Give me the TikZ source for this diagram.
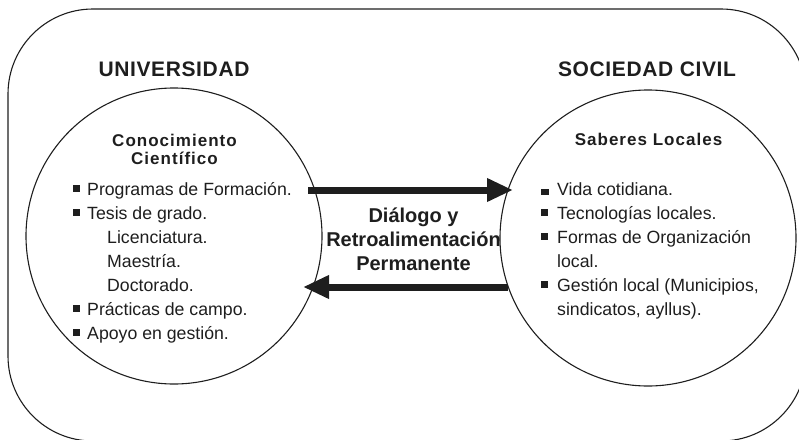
\documentclass[tikz,border=0pt]{standalone}
\usepackage{fontspec}
\setmainfont{Liberation Sans}
\newfontfamily\headfont[LetterSpace=6]{Liberation Sans}
\newfontfamily\titlefont[LetterSpace=3]{Liberation Sans}
\usetikzlibrary{arrows.meta}
\definecolor{ink}{HTML}{1E1E1E}
\begin{document}
\begin{tikzpicture}[x=1pt,y=-1pt,
  frame/.style={draw=ink,line width=1.1pt},
  circ/.style={circle,draw=ink,line width=1.1pt,minimum size=296pt,inner sep=0pt},
  title/.style={text=ink,font=\titlefont\bfseries\fontsize{21}{25}\selectfont,inner sep=0pt},
  head/.style={text=ink,font=\headfont\bfseries\fontsize{17}{20}\selectfont,inner sep=0pt,anchor=base},
  item/.style={text=ink,font=\fontsize{17.7}{21}\selectfont,inner sep=0pt,anchor=base west},
  mid/.style={text=ink,font=\bfseries\fontsize{20}{24}\selectfont,inner sep=0pt,anchor=base},
  bul/.style={fill=ink,inner sep=0pt,minimum width=7pt,minimum height=7pt},
  bigarrow/.style={draw=ink,line width=7pt,-{Triangle[length=26pt,width=22pt]}}
]
\useasboundingbox (0,0) rectangle (799,439);
\clip (0,0) rectangle (799,439);
% outer frame
\draw[frame,rounded corners=85pt] (8,9) rectangle (806,441);
% titles
\node[title] (uni) at (174,69) {UNIVERSIDAD};
\node[title] (soc) at (647,69) {SOCIEDAD CIVIL};
% circles
\node[circ] (ucirc) at (174,236) {};
\node[circ] (scirc) at (648,238) {};
% left circle contents
\node[head] (ck1) at (174.5,146) {Conocimiento};
\node[head] (ck2) at (174.5,164) {Científico};
\node[item] (l1) at (87,195) {Programas de Formación.};
\node[item] (l2) at (87,219) {Tesis de grado.};
\node[item] (l3) at (107,243) {Licenciatura.};
\node[item] (l4) at (107,267) {Maestría.};
\node[item] (l5) at (107,291) {Doctorado.};
\node[item] (l6) at (87,315) {Prácticas de campo.};
\node[item] (l7) at (87,339) {Apoyo en gestión.};
\node[bul] (b1) at (76.5,188) {};
\node[bul] (b2) at (76.5,212) {};
\node[bul] (b6) at (76.5,308) {};
\node[bul] (b7) at (76.5,332) {};
% right circle contents
\node[head] (sl) at (648.5,145) {Saberes Locales};
\node[item] (r1) at (557,195) {Vida cotidiana.};
\node[item] (r2) at (557,219) {Tecnologías locales.};
\node[item] (r3) at (557,243) {Formas de Organización};
\node[item] (r4) at (557,267) {local.};
\node[item] (r5) at (557,291) {Gestión local (Municipios,};
\node[item] (r6) at (557,315) {sindicatos, ayllus).};
\node[bul,minimum width=8pt,minimum height=6pt] (c1) at (544.5,191.5) {};
\node[bul] (c2) at (544,212) {};
\node[bul] (c3) at (544,236) {};
\node[bul] (c5) at (544,284) {};
% middle text
\node[mid] (m1) at (413.5,222.5) {Diálogo y};
\node[mid] (m2) at (413.5,246) {Retroalimentación};
\node[mid] (m3) at (413.5,270) {Permanente};
% arrows
\coordinate (ua) at (308,190);
\coordinate (sa) at (513,190);
\coordinate (sb) at (508,287);
\coordinate (ub) at (303,287);
\draw[bigarrow] (ua) -- (sa);
\draw[bigarrow] (sb) -- (ub);
\end{tikzpicture}
\end{document}
